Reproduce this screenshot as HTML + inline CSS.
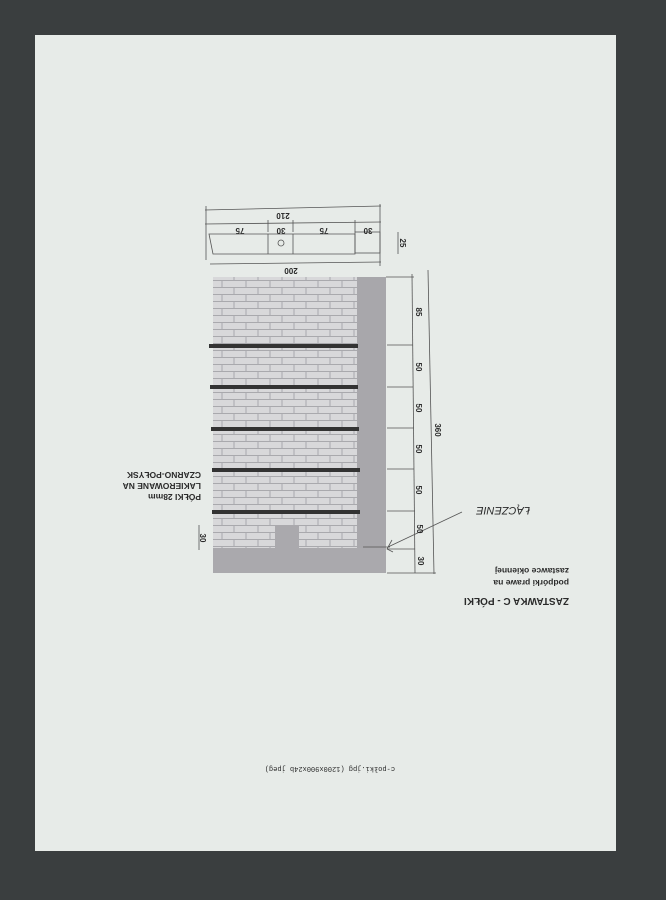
<!DOCTYPE html>
<html><head><meta charset="utf-8"><style>
html,body{margin:0;padding:0;background:#3a3e3f;width:666px;height:900px;overflow:hidden}
svg{display:block}
text{font-family:"Liberation Sans",sans-serif;font-weight:bold;fill:#2a2a2a}
</style></head><body>
<svg width="666" height="900" viewBox="0 0 666 900">
<defs>
<pattern id="br" width="24" height="14" patternUnits="userSpaceOnUse">
<rect width="24" height="14" fill="#d8d8da"/>
<path d="M0 0.5H24M0 7.5H24M6 0V7M18 7V14" stroke="#a9a9ad" stroke-width="1"/>
</pattern>
</defs>
<rect x="35" y="35" width="581" height="816" fill="#e7ebe8"/>
<!-- brick wall -->
<rect x="213" y="277" width="145" height="272" fill="url(#br)"/>
<rect x="357" y="277" width="29" height="296" fill="#a8a7ab"/>
<rect x="213" y="548" width="173" height="25" fill="#aaa9ad"/>
<rect x="275" y="525" width="24" height="25" fill="#aaa9ad"/>
<g fill="#333">
<rect x="209" y="344" width="149" height="4"/>
<rect x="210" y="385" width="148" height="4"/>
<rect x="211" y="427" width="148" height="4"/>
<rect x="212" y="468" width="148" height="4"/>
<rect x="212" y="510" width="148" height="4"/>
</g>
<!-- top view -->
<g stroke="#555" stroke-width="0.8" fill="none">
<path d="M209 234H355V254H213Z"/>
<rect x="355" y="232" width="25" height="21"/>
<line x1="268" y1="234" x2="268" y2="254"/>
<line x1="293" y1="234" x2="293" y2="254"/>
<circle cx="281" cy="243" r="3"/>
<line x1="205" y1="210" x2="381" y2="206"/>
<line x1="205" y1="224" x2="381" y2="222"/>
<line x1="210" y1="264" x2="381" y2="262"/>
<line x1="206" y1="206" x2="206" y2="260"/>
<line x1="380" y1="204" x2="380" y2="266"/>
<line x1="268" y1="220" x2="268" y2="232"/>
<line x1="293" y1="220" x2="293" y2="232"/>
<line x1="355" y1="220" x2="355" y2="232"/>
<line x1="398" y1="232" x2="398" y2="254"/>
<!-- right dims -->
<line x1="412" y1="274" x2="415" y2="573"/>
<line x1="428" y1="270" x2="434" y2="574"/>
<line x1="386" y1="277" x2="414" y2="277"/>
<line x1="387" y1="345" x2="413" y2="345"/>
<line x1="387" y1="387" x2="413" y2="387"/>
<line x1="387" y1="428" x2="414" y2="428"/>
<line x1="387" y1="469" x2="414" y2="469"/>
<line x1="387" y1="511" x2="415" y2="511"/>
<line x1="387" y1="549" x2="415" y2="549"/>
<line x1="387" y1="573" x2="436" y2="573"/>
<line x1="199" y1="525" x2="199" y2="550"/>
<!-- leader -->
<path d="M462 512L388 547M363 547H390M392 540L387 549L393 552"/>
</g>
<g font-size="8">
<text transform="rotate(180 283 213)" x="283" y="213" text-anchor="middle">210</text>
<text transform="rotate(180 240 228)" x="240" y="228" text-anchor="middle">75</text>
<text transform="rotate(180 281 228)" x="281" y="228" text-anchor="middle">30</text>
<text transform="rotate(180 324 228)" x="324" y="228" text-anchor="middle">75</text>
<text transform="rotate(180 368 228)" x="368" y="228" text-anchor="middle">30</text>
<text transform="rotate(180 291 268)" x="291" y="268" text-anchor="middle">200</text>
<text transform="rotate(90 400 243)" x="400" y="243" text-anchor="middle">25</text>
<text transform="rotate(90 416 312)" x="416" y="312" text-anchor="middle">85</text>
<text transform="rotate(90 416 367)" x="416" y="367" text-anchor="middle">50</text>
<text transform="rotate(90 416 408)" x="416" y="408" text-anchor="middle">50</text>
<text transform="rotate(90 416 449)" x="416" y="449" text-anchor="middle">50</text>
<text transform="rotate(90 416 490)" x="416" y="490" text-anchor="middle">50</text>
<text transform="rotate(90 417 529)" x="417" y="529" text-anchor="middle">50</text>
<text transform="rotate(90 418 561)" x="418" y="561" text-anchor="middle">30</text>
<text transform="rotate(90 435 430)" x="435" y="430" text-anchor="middle">360</text>
<text transform="rotate(90 200 538)" x="200" y="538" text-anchor="middle">30</text>
</g>
<g font-size="8.5">
<text transform="rotate(180 201 494)" x="201" y="494">PÓŁKI 28mm</text>
<text transform="rotate(180 201 483)" x="201" y="483">LAKIEROWANE NA</text>
<text transform="rotate(180 201 472)" x="201" y="472">CZARNO-POŁYSK</text>
<text transform="rotate(180 569 598)" x="569" y="598" font-size="10">ZASTAWKA C - PÓŁKI</text>
<text transform="rotate(180 569 580)" x="569" y="580" font-weight="normal" style="font-weight:bold">podpórki prawe na</text>
<text transform="rotate(180 569 568)" x="569" y="568">zastawce okiennej</text>
</g>
<text transform="rotate(180 530 507)" x="530" y="507" font-size="11" style="font-weight:normal;font-style:italic" fill="#555">ŁĄCZENIE</text>
<text transform="rotate(180 395 767)" x="395" y="767" font-size="7" style="font-family:'Liberation Mono',monospace;font-weight:normal" fill="#777">c-połki.jpg (1200x900x24b jpeg)</text>
</svg>
</body></html>
